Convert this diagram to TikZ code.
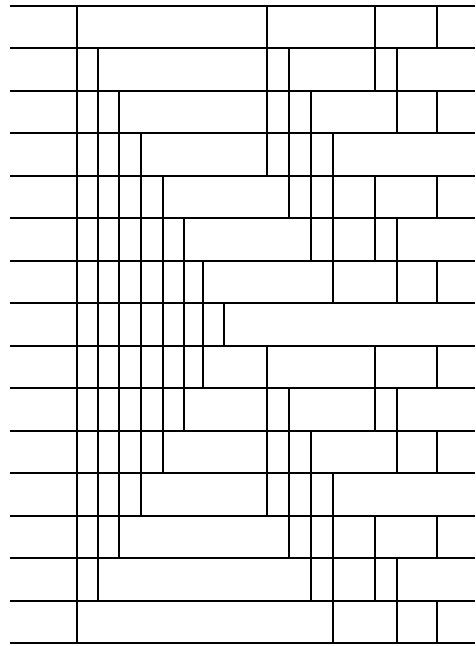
\documentclass[tikz,border=0pt]{standalone}
\usepackage{tikz}
\tikzset{rung/.style={line width=2pt}, post/.style={line width=2pt}}
\begin{document}
\begin{tikzpicture}[x=1pt,y=-1pt]
\useasboundingbox (0,0) rectangle (475,646);
\def\lcols{{76.7,97.7,119.3,141.3,163,184.3,202.7,224.3}}
\def\rcols{{267.3,289,311,332.7,375.3,397,437.3}}
% horizontal rungs
\foreach \r in {0,...,15}
  \draw[rung] (10,5.7+42.5*\r) -- (475,5.7+42.5*\r);
% left staircase
\foreach \r in {1,...,15}{
  \pgfmathtruncatemacro\n{min(\r,16-\r)}
  \foreach \i in {1,...,\n}{
    \pgfmathsetmacro\x{\lcols[\i-1]}
    \draw[post] (\x,5.7+42.5*\r-42.5) -- (\x,5.7+42.5*\r);
  }
}
% right blocks, rows 1-7 repeat as rows 9-15
\foreach \set [count=\r] in {{1,5,7},{1,2,5,6},{1,2,3,6,7},{1,2,3,4},{2,3,4,5,7},{3,4,5,6},{4,6,7}}{
  \foreach \c in \set{
    \pgfmathsetmacro\x{\rcols[\c-1]}
    \draw[post] (\x,5.7+42.5*\r-42.5) -- (\x,5.7+42.5*\r);
    \draw[post] (\x,5.7+42.5*\r+297.5) -- (\x,5.7+42.5*\r+340);
  }
}
\end{tikzpicture}
\end{document}
